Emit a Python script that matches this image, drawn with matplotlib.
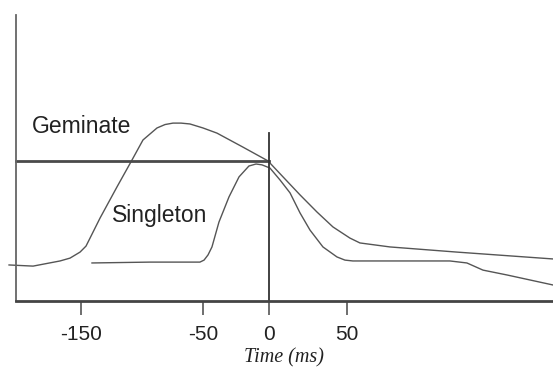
import numpy as np
import matplotlib
matplotlib.use("Agg")
import matplotlib.pyplot as plt

plt.rcParams["font.family"] = ["Liberation Sans", "DejaVu Sans"]
plt.rcParams["axes.unicode_minus"] = False

# Geminate trace (time in ms, relative amplitude)
geminate_t = [-209.0, -189.3, -167.2, -159.0, -150.8, -145.9, -142.6, -134.4,
              -120.5, -108.2, -99.2, -87.7, -81.1, -74.6, -68.0, -60.7, -50.0,
              -39.4, -19.7, -0.8, 9.0, 19.9, 30.8, 41.0, 51.9, 58.3, 77.6,
              120.5, 182.1]
geminate_y = [0.126, 0.122, 0.140, 0.150, 0.171, 0.192, 0.220, 0.290,
              0.399, 0.493, 0.563, 0.605, 0.617, 0.622, 0.622, 0.619, 0.605,
              0.587, 0.538, 0.490, 0.434, 0.371, 0.311, 0.259, 0.220, 0.203, 0.189,
              0.171, 0.147]

# Singleton trace
singleton_t = [-141.0, -93.4, -52.5, -49.2, -46.2, -43.2, -37.9, -30.3, -22.7,
               -15.2, -9.8, -5.3, 0.6, 7.1, 13.5, 19.9, 26.3, 34.6, 43.6, 48.7,
               53.8, 116.0, 126.9, 137.2, 152.6, 182.1]
singleton_y = [0.133, 0.136, 0.136, 0.143, 0.161, 0.189, 0.276, 0.364, 0.434,
               0.472, 0.479, 0.476, 0.465, 0.423, 0.378, 0.308, 0.248, 0.189, 0.154, 0.143,
               0.140, 0.140, 0.133, 0.108, 0.091, 0.056]

threshold = 0.4906      # horizontal reference level
marker_top = 0.587      # top of the vertical line at t = 0
tick_values = [-150, -50, 0, 50]
tick_labels = ["-150", "-50", "0", "50"]

# the original time axis is not evenly spaced: piecewise-linear scale
KNOT_MS = [-1000, -150, -50, 0, 50, 1000]
KNOT_PX = [-956, 81, 203, 269, 347, 1829]


def fwd(x):
    return np.interp(x, KNOT_MS, KNOT_PX)


def inv(p):
    return np.interp(p, KNOT_PX, KNOT_MS)


fig = plt.figure(figsize=(5.53, 3.69), dpi=100)
ax = fig.add_axes([16 / 553, 1 - 301 / 369, 1 - 16 / 553, (301 - 15) / 369])
ax.set_xscale("function", functions=(fwd, inv))
ax.set_xlim(-203.3, 182.1)
ax.set_ylim(0, 1)

curve_color = "#555555"
ax.plot(geminate_t, geminate_y, color=curve_color, lw=1.0, clip_on=False)
ax.plot(singleton_t, singleton_y, color=curve_color, lw=1.0, clip_on=False)

ax.plot([-203.3, 0], [threshold, threshold], color="#4a4a4a", lw=2.0, clip_on=False)
ax.plot([0, 0], [0, marker_top], color="#333333", lw=1.3, clip_on=False)

ax.text(-190.2, 0.587, "Geminate", fontsize=16.5, color="#222222",
        ha="left", va="baseline")
ax.text(-124.6, 0.276, "Singleton", fontsize=16.5, color="#222222",
        ha="left", va="baseline")

for side in ["top", "right"]:
    ax.spines[side].set_visible(False)
ax.spines["left"].set_color("#666666")
ax.spines["left"].set_linewidth(1.3)
ax.spines["bottom"].set_color("#444444")
ax.spines["bottom"].set_linewidth(2.0)

ax.set_yticks([])
ax.set_xticks(tick_values)
ax.set_xticklabels(tick_labels)
ax.minorticks_off()
ax.tick_params(axis="x", direction="out", length=10, width=1.2,
               color="#555555", pad=7, labelsize=15, labelcolor="#222222")

ax.set_xlabel("Time (ms)", fontsize=14.5, fontstyle="italic",
              family=["Liberation Serif", "DejaVu Serif"], color="#222222",
              labelpad=3)

fig.savefig("out.png", dpi=100)
